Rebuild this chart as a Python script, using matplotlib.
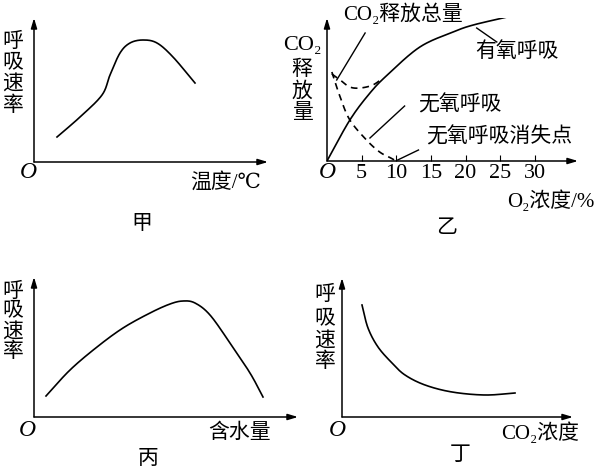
import numpy as np
import matplotlib
matplotlib.use('Agg')
import matplotlib.pyplot as plt

# 字体
SERIF = ['Liberation Serif', 'DejaVu Serif', 'Noto Sans CJK SC']
plt.rcParams['font.family'] = SERIF

# ---- 数据 ----
# 甲: 温度 - 呼吸速率
jia_x = [23, 46, 68, 76, 86, 96, 109, 123, 139, 161]
jia_y = [25, 45, 67, 87, 109, 119, 122, 119, 105, 79]

# 乙: O2浓度 - CO2释放量
yi_ticks = [5, 10, 15, 20, 25, 30]
yi_aer_x = [0, 3.3, 6.2, 8.7, 13.4, 18.2, 21.1, 26.0]
yi_aer_y = [0, 41, 68, 86, 114, 129, 136, 144]
yi_ana_x = [0.7, 1.9, 3.3, 5.7, 7.6, 9.2, 10.0]
yi_ana_y = [89, 64, 41, 21, 9, 3, 0]
yi_tot_x = [0.7, 1.9, 3.3, 4.8, 6.6, 8.1]
yi_tot_y = [87, 81, 74, 73, 76, 83]

# 丙: 含水量 - 呼吸速率
bing_x = [12, 36, 63, 89, 116, 136, 149, 161, 176, 196, 216, 229]
bing_y = [21, 47, 70, 89, 104, 113, 116, 114, 102, 74, 44, 20]

# 丁: CO2浓度 - 呼吸速率
ding_x = [20, 26, 36, 50, 63, 83, 110, 143, 173]
ding_y = [112, 89, 70, 54, 42, 32, 25, 22, 24]


def smooth(xs, ys, n=20):
    # Catmull-Rom 平滑
    p = np.column_stack([xs, ys]).astype(float)
    p = np.vstack([2 * p[0] - p[1], p, 2 * p[-1] - p[-2]])
    out = []
    t = np.linspace(0, 1, n, endpoint=False)[:, None]
    for i in range(1, len(p) - 2):
        p0, p1, p2, p3 = p[i - 1], p[i], p[i + 1], p[i + 2]
        c = 0.5 * ((2 * p1) + (-p0 + p2) * t + (2 * p0 - 5 * p1 + 4 * p2 - p3) * t ** 2
                   + (-p0 + 3 * p1 - 3 * p2 + p3) * t ** 3)
        out.append(c)
    out.append(p[-2][None, :])
    out = np.vstack(out)
    return out[:, 0], out[:, 1]


W, H = 600, 472
fig = plt.figure(figsize=(6, 4.72), dpi=100)


def panel(ox, oy, rx, ty):
    ax = fig.add_axes([ox / W, (H - oy) / H, (rx - ox) / W, (oy - ty) / H])
    ax.patch.set_visible(False)
    for s in ax.spines.values():
        s.set_visible(False)
    ax.set_xticks([])
    ax.set_yticks([])
    arr = dict(arrowstyle='-|>,head_length=0.6,head_width=0.18', color='black', lw=1.1,
               shrinkA=0, shrinkB=0)
    ax.annotate('', xy=(1, 0), xytext=(0, 0), xycoords='axes fraction', arrowprops=arr,
                annotation_clip=False)
    ax.annotate('', xy=(0, 1), xytext=(0, 0), xycoords='axes fraction', arrowprops=arr,
                annotation_clip=False)
    return ax


def txt(x, y, s, size=15, **kw):
    fig.text(x / W, 1 - y / H, s, ha='center', va='center', fontsize=size, **kw)


def vlabel(x, ys, chars):
    for yy, ch in zip(ys, chars):
        txt(x, yy, ch)


LW = 1.2

# 甲
ax1 = panel(34, 162, 268, 18)
ax1.set_xlim(0, 234)
ax1.set_ylim(0, 144)
ax1.plot(*smooth(jia_x, jia_y), color='black', lw=LW)
vlabel(13, [42, 63, 84, 106], '呼吸速率')
txt(28, 173, 'O', size=17, style='italic')
txt(226, 183, '温度/℃')
txt(142, 225, '甲')

# 乙
ax2 = panel(327, 161, 578, 18)
ax2.set_xlim(0, (578 - 327) / 6.93)
ax2.set_ylim(0, 143)
ax2.plot(*smooth(yi_aer_x, yi_aer_y), color='black', lw=LW)
ax2.plot(*smooth(yi_ana_x, yi_ana_y), color='black', lw=LW, ls=(0, (4, 3)))
ax2.plot(*smooth(yi_tot_x, yi_tot_y), color='black', lw=LW, ls=(0, (4, 3)))
ax2.set_xticks(yi_ticks)
ax2.set_xticklabels([str(v) for v in yi_ticks], fontsize=16)
ax2.tick_params(axis='x', direction='in', length=4, width=0.8, pad=2)
# 引线
for (x0, y0), (x1, y1) in [((5.5, 128), (1.4, 81)), ((21.6, 133), (24.5, 119)),
                           ((11.2, 55), (6.2, 23)), ((13.2, 11), (10.2, 1))]:
    ax2.plot([x0, x1], [y0, y1], color='black', lw=1.0, clip_on=False)
txt(302, 46, 'CO₂', size=16)
vlabel(302, [70, 92, 113], '释放量')
txt(403, 14, 'CO₂释放总量')
txt(517, 52, '有氧呼吸')
txt(460, 105, '无氧呼吸')
txt(499, 137, '无氧呼吸消失点')
txt(327, 173, 'O', size=17, style='italic')
txt(551, 201, 'O₂浓度/%')
txt(447, 228, '乙')

# 丙
ax3 = panel(34, 417, 298, 277)
ax3.set_xlim(0, 264)
ax3.set_ylim(0, 140)
ax3.plot(*smooth(bing_x, bing_y), color='black', lw=LW)
vlabel(13, [292, 311, 332, 352], '呼吸速率')
txt(27, 430, 'O', size=17, style='italic')
txt(240, 433, '含水量')
txt(148, 460, '丙')

# 丁
ax4 = panel(342, 417, 573, 278)
ax4.set_xlim(0, 231)
ax4.set_ylim(0, 139)
ax4.plot(*smooth(ding_x, ding_y), color='black', lw=LW)
vlabel(325, [295, 319, 341, 362], '呼吸速率')
txt(337, 430, 'O', size=17, style='italic')
txt(540, 433, 'CO₂浓度')
txt(460, 455, '丁')

fig.savefig('out.png', dpi=100, facecolor='white')
